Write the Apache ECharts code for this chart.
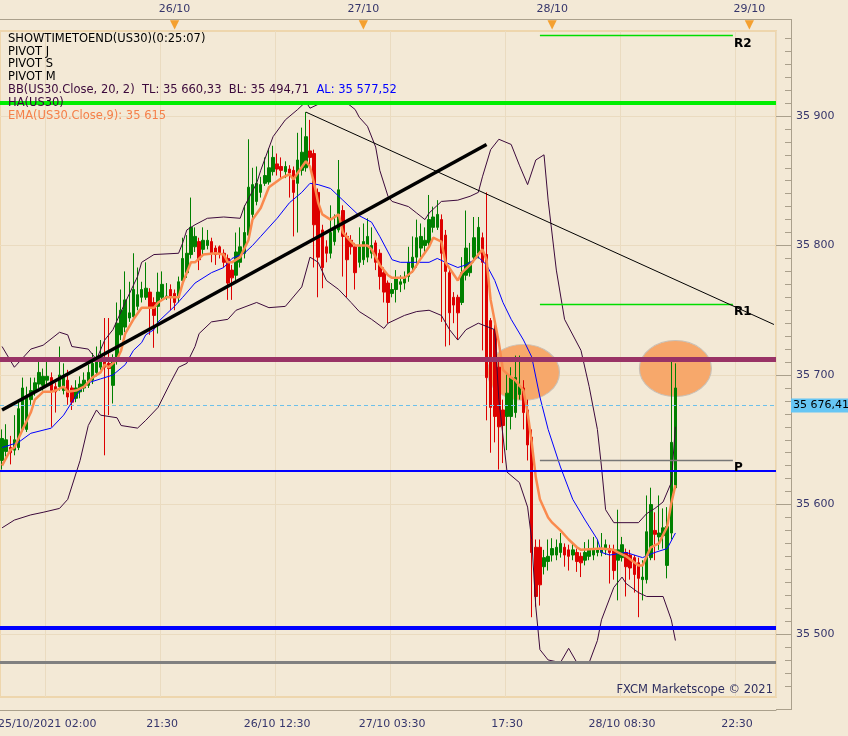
<!DOCTYPE html>
<html><head><meta charset="utf-8">
<script src="https://cdn.jsdelivr.net/npm/echarts@6/dist/echarts.min.js"></script>
<style>html,body{margin:0;padding:0;background:#f3e9d6;}#c{width:848px;height:736px;}</style>
</head><body><div id="c"></div>
<script>
// ---------- DATA ----------
const slotCount = 189; // 30-min slots shown on the time axis
const opens = [35634,35641,35644,35642,35644,35658,35658,35681,35687,35693,
35692,35696,35698,35691,35691,35688,35696,35690,35682,35687,
35690,35692,35696,35702,35706,35710,35709,35692,35712,35731,
35737,35744,35745,35753,35760,35760,35764,35756,35753,35760,
35760,35766,35763,35760,35773,35779,35793,35799,35803,35797,
35800,35803,35798,35799,35794,35790,35781,35777,35787,35794,
35808,35824,35834,35841,35848,35849,35857,35863,35861,35857,
35859,35858,35848,35858,35860,35873,35871,35841,35812,35799,
35794,35803,35812,35827,35807,35804,35799,35787,35789,35791,
35794,35802,35794,35779,35771,35763,35766,35770,35771,35776,
35783,35791,35798,35800,35802,35814,35814,35820,35808,35779,
35760,35760,35756,35777,35779,35791,35794,35806,35793,35742,
35735,35706,35673,35668,35668,35671,35685,35690,35673,35652,
35567,35567,35552,35556,35561,35561,35563,35567,35565,35561,
35563,35560,35557,35560,35561,35563,35563,35565,35566,35565,
35557,35559,35563,35561,35559,35555,35542,35542,35559,35580,
35575,35576,35553,35578,35613];
const closes = [35651,35650,35640,35650,35674,35690,35683,35688,35694,35702,
35699,35699,35688,35687,35700,35698,35683,35679,35690,35693,
35696,35702,35709,35712,35714,35706,35705,35712,35740,35750,
35758,35748,35766,35762,35766,35767,35752,35746,35764,35770,
35761,35760,35756,35772,35790,35794,35814,35807,35789,35804,
35804,35794,35793,35794,35787,35771,35775,35795,35799,35810,
35845,35847,35848,35847,35854,35860,35868,35859,35858,35861,
35856,35841,35866,35872,35884,35868,35816,35791,35783,35794,
35810,35814,35843,35807,35789,35799,35779,35799,35803,35807,
35800,35787,35776,35764,35756,35766,35775,35772,35775,35787,
35791,35806,35807,35804,35820,35822,35824,35794,35780,35748,
35754,35748,35779,35798,35787,35806,35814,35787,35698,35675,
35668,35660,35661,35686,35698,35698,35691,35671,35646,35563,
35529,35538,35559,35560,35566,35567,35570,35561,35560,35565,
35556,35555,35563,35565,35566,35566,35566,35569,35563,35549,
35565,35569,35552,35551,35546,35543,35544,35579,35600,35577,
35578,35582,35583,35648,35690];
const highs = [35658,35662,35653,35669,35681,35698,35691,35698,35698,35711,
35705,35711,35702,35694,35722,35709,35704,35692,35696,35699,
35702,35708,35717,35722,35727,35744,35744,35716,35756,35766,
35780,35772,35794,35783,35772,35787,35767,35760,35779,35780,
35771,35770,35766,35776,35806,35808,35837,35814,35806,35814,
35812,35806,35800,35800,35797,35793,35785,35810,35814,35831,
35882,35860,35861,35853,35868,35875,35877,35871,35868,35865,
35862,35861,35887,35891,35903,35897,35874,35844,35816,35804,
35831,35824,35866,35831,35810,35808,35802,35814,35817,35821,
35814,35804,35797,35783,35773,35771,35781,35777,35780,35799,
35807,35820,35817,35814,35839,35830,35835,35824,35812,35781,
35764,35762,35791,35827,35802,35822,35822,35810,35841,35744,
35739,35712,35681,35702,35706,35715,35715,35696,35681,35658,
35573,35573,35565,35573,35574,35573,35578,35570,35569,35570,
35566,35563,35571,35573,35575,35573,35578,35573,35569,35569,
35596,35575,35566,35565,35561,35559,35557,35607,35613,35594,
35607,35597,35598,35712,35709];
const lows = [35627,35637,35631,35638,35642,35656,35656,35677,35684,35690,
35688,35692,35660,35671,35688,35685,35677,35673,35679,35682,
35687,35690,35693,35699,35704,35638,35669,35678,35708,35727,
35733,35741,35743,35750,35756,35758,35731,35721,35732,35758,
35758,35750,35750,35756,35770,35775,35790,35795,35781,35793,
35797,35787,35785,35790,35783,35758,35758,35773,35783,35790,
35804,35820,35831,35837,35846,35847,35854,35854,35851,35852,
35837,35807,35810,35854,35857,35862,35783,35760,35767,35787,
35790,35800,35810,35776,35760,35793,35766,35783,35785,35787,
35790,35781,35766,35756,35740,35760,35756,35764,35766,35772,
35779,35783,35791,35795,35798,35810,35812,35741,35722,35723,
35740,35727,35754,35773,35776,35787,35790,35719,35665,35640,
35648,35627,35632,35642,35658,35667,35681,35658,35634,35513,
35521,35522,35546,35549,35556,35557,35559,35552,35549,35557,
35548,35544,35553,35557,35557,35560,35560,35561,35539,35542,
35526,35556,35529,35542,35532,35513,35526,35539,35557,35557,
35565,35566,35543,35573,35612];

// Bollinger bands and EMA as [slot, price]
const bbUpper = [[0,35722],[3,35706],[7,35720],[10,35723],[14,35733],[16,35731],[17,35722],[21,35720],[23,35712],[25,35727],[27,35735],[30,35756],[33,35776],[34,35787],[37,35793],[43,35794],[44,35802],[45,35812],[47,35816],[50,35821],[54,35822],[58,35821],[59,35830],[62,35848],[63,35858],[66,35884],[69,35897],[72,35905],[74,35911],[75,35906],[77,35909],[80,35909],[84,35910],[86,35905],[87,35899],[89,35892],[91,35876],[92,35858],[94,35838],[95,35834],[99,35830],[101,35825],[103,35820],[104,35825],[107,35834],[111,35835],[114,35838],[116,35841],[117,35853],[119,35874],[121,35882],[124,35878],[126,35862],[128,35847],[130,35866],[132,35870],[133,35835],[135,35781],[137,35743],[141,35719],[143,35691],[145,35658],[146,35629],[147,35596],[149,35586],[155,35586],[157,35593],[159,35597],[161,35602],[163,35617],[164,35660]];
const bbLower = [[0,35582],[3,35588],[7,35592],[10,35594],[14,35597],[16,35604],[19,35634],[21,35661],[23,35673],[24,35669],[28,35667],[29,35661],[33,35659],[35,35665],[38,35675],[41,35694],[43,35706],[45,35709],[47,35722],[48,35732],[51,35741],[55,35743],[57,35750],[62,35756],[65,35752],[69,35753],[73,35768],[75,35791],[77,35787],[79,35773],[82,35766],[85,35756],[87,35749],[90,35743],[93,35736],[94,35740],[98,35746],[101,35749],[104,35750],[107,35746],[109,35735],[111,35727],[113,35735],[116,35740],[120,35735],[121,35681],[123,35625],[126,35617],[128,35598],[129,35573],[130,35521],[131,35488],[133,35480],[136,35478],[138,35489],[140,35478],[143,35478],[145,35495],[146,35511],[149,35536],[151,35544],[152,35539],[155,35532],[157,35529],[161,35529],[163,35511],[164,35495]];
const bbMiddle = [[0,35644],[4,35648],[7,35655],[12,35659],[15,35669],[17,35679],[19,35688],[21,35694],[24,35697],[27,35700],[30,35708],[32,35719],[34,35725],[35,35731],[37,35735],[38,35741],[42,35753],[44,35760],[47,35771],[51,35779],[54,35783],[56,35790],[59,35794],[61,35800],[63,35807],[67,35821],[70,35833],[73,35841],[75,35848],[77,35847],[80,35844],[83,35835],[85,35829],[87,35823],[90,35818],[92,35807],[94,35795],[95,35789],[97,35787],[100,35787],[104,35787],[106,35790],[108,35787],[111,35783],[113,35785],[116,35791],[118,35785],[120,35773],[122,35756],[124,35743],[127,35727],[129,35714],[131,35683],[133,35658],[136,35629],[139,35604],[142,35588],[145,35573],[146,35563],[148,35561],[152,35563],[156,35559],[159,35563],[162,35566],[164,35578]];
const ema9 = [[0,35630],[2,35642],[3,35644],[5,35658],[7,35671],[8,35681],[10,35687],[12,35687],[13,35688],[15,35691],[16,35687],[18,35688],[20,35691],[22,35698],[24,35702],[25,35708],[26,35706],[28,35712],[29,35719],[30,35732],[32,35743],[34,35752],[37,35752],[38,35756],[40,35760],[41,35760],[43,35760],[44,35771],[46,35787],[47,35787],[49,35793],[52,35794],[54,35793],[55,35787],[56,35787],[58,35791],[60,35804],[61,35820],[63,35829],[65,35845],[68,35852],[70,35855],[71,35851],[72,35856],[74,35865],[75,35861],[76,35848],[77,35833],[78,35824],[80,35820],[82,35824],[83,35810],[85,35803],[86,35800],[89,35800],[90,35797],[92,35785],[94,35777],[95,35775],[98,35775],[100,35780],[102,35790],[104,35799],[105,35806],[107,35803],[108,35787],[111,35773],[112,35779],[114,35785],[117,35797],[118,35789],[119,35758],[121,35725],[122,35704],[124,35698],[125,35696],[127,35688],[128,35671],[129,35648],[130,35621],[131,35604],[133,35590],[134,35586],[136,35580],[138,35573],[140,35567],[141,35565],[146,35566],[149,35565],[150,35563],[152,35560],[155,35553],[156,35553],[158,35567],[160,35570],[162,35583],[163,35601],[164,35615]];

// drawn studies
const trendThin = [[74,35903],[188,35739]];
const trendThick = [[0,35673],[118,35878]];
const zones = [[127,35702],[164,35705]];
const levelGreen = 35910, levelMaroon = 35712.5, levelBlueP = 35626, levelBlueLow = 35505, levelGray = 35478;
const pivotStart = 131, pivotEnd = 178;
const pivotNames = ['R2','R1','P'];
const pivotValues = [35962, 35755, 35634.3];
const lastPrice = 35676.41;

// legend values
const bbTL = 35660.33, bbBL = 35494.71, bbAL = 35577.52, emaLast = 35615;

// axes
const yMin = 35451.4, yMax = 35965.6;
const yLabelValues = [35500,35600,35700,35800,35900];
const bottomMajorIdx = [11,39,67,95,123,151,179];
const bottomLabels = ['25/10/2021 02:00','21:30','26/10 12:30','27/10 03:30','17:30','28/10 08:30','22:30'];
const topDayIdx = [42,88,134,182];
const topDayLabels = ['26/10','27/10','28/10','29/10'];
const topTickIdx = [0,4,8,12,16,19,23,27,31,35,39,43,49,54,60,66,71,77,82,88,94,100,105,111,117,123,128,134,140,146,152,158,164,170,176,182,188];

// ---------- BUILD ----------
const cats = Array.from({length: slotCount}, (_, i) => String(i));
const candles = opens.map((o, i) => [o, closes[i], lows[i], highs[i]]);
const fmtNum = (v, dec) => {
  const s = v.toFixed(dec);
  const parts = s.split('.');
  const ip = parts[0].replace(/\B(?=(\d{3})+(?!\d))/g, ' ');
  return parts.length > 1 ? ip + ',' + parts[1] : ip;
};
const yMinor = [];
for (let v = Math.ceil(yMin / 10) * 10; v <= yMax; v += 10) yMinor.push(v);
const bottomMinorIdx = [];
for (let k = 1; k <= 3; k++) bottomMinorIdx.push(bottomMajorIdx[0] - Math.round(k * 28 / 9));
bottomMajorIdx.forEach(m => { for (let k = 1; k <= 8; k++) { const t = m + Math.round(k * 28 / 9); if (t < slotCount) bottomMinorIdx.push(t); } });

const FONT = '"DejaVu Sans", Verdana, sans-serif';
const LFONT = '11.5px ' + FONT;
const TXT = '#35356b';
const TICK = '#aaa08c';
const GRIDLINE = '#eadbc0';

const chart = echarts.init(document.getElementById('c'), null, {renderer: 'canvas'});
const option = {
  animation: false,
  backgroundColor: '#f3e9d6',
  grid: {left: 0, right: 72, top: 31, bottom: 39, outerBoundsMode: 'none', containLabel: false, show: true, backgroundColor: 'transparent', borderColor: '#eed6ad', borderWidth: 2},
  xAxis: [
    {type: 'category', data: cats, boundaryGap: true, position: 'bottom', offset: 13,
     axisLine: {lineStyle: {color: TICK}},
     axisTick: {inside: true, length: 9, interval: (i) => bottomMajorIdx.includes(i), lineStyle: {color: TICK}},
     axisLabel: {interval: (i) => bottomMajorIdx.includes(i), formatter: (v, i) => bottomLabels[bottomMajorIdx.indexOf(i)] || '', color: TXT, fontFamily: FONT, fontSize: 11, margin: 9},
     splitLine: {show: true, interval: (i) => bottomMajorIdx.includes(i), lineStyle: {color: GRIDLINE, width: 1}}},
    {type: 'category', data: cats, boundaryGap: true, position: 'bottom', offset: 13,
     axisLine: {show: false}, axisLabel: {show: false},
     axisTick: {inside: true, length: 4, interval: (i) => bottomMinorIdx.includes(i), lineStyle: {color: TICK}}},
    {type: 'category', data: cats, boundaryGap: true, position: 'top', offset: 12,
     axisLine: {lineStyle: {color: TICK}},
     axisTick: {inside: true, length: 5, interval: (i) => topTickIdx.includes(i), lineStyle: {color: TICK}},
     axisLabel: {interval: (i) => topDayIdx.includes(i), formatter: (v, i) => topDayLabels[topDayIdx.indexOf(i)] || '', color: TXT, fontFamily: FONT, fontSize: 11, margin: 4}},
    {type: 'category', data: cats, boundaryGap: true, position: 'top', offset: 12,
     axisLine: {show: false}, axisTick: {show: false},
     axisLabel: {inside: true, margin: 0, interval: (i) => topDayIdx.includes(i), formatter: () => '▼', color: '#f4a030', fontSize: 12, fontFamily: FONT}}
  ],
  yAxis: [
    {type: 'value', min: yMin, max: yMax, position: 'right', offset: 15,
     axisLine: {show: true, lineStyle: {color: TICK}},
     axisTick: {show: true, inside: true, length: 15, customValues: yLabelValues, lineStyle: {color: TICK}},
     axisLabel: {customValues: yLabelValues, formatter: (v) => fmtNum(v, 0), color: TXT, fontFamily: FONT, fontSize: 11, margin: 5},
     splitLine: {show: true, lineStyle: {color: GRIDLINE}}},
    {type: 'value', min: yMin, max: yMax, position: 'right', offset: 15,
     axisLine: {show: false}, axisLabel: {show: false}, splitLine: {show: false},
     axisTick: {show: true, inside: true, length: 6, customValues: yMinor, lineStyle: {color: TICK}}}
  ],
  series: [
    {name: 'zones', type: 'scatter', data: zones, symbol: 'circle', symbolSize: [72, 56], z: 1, silent: true,
     itemStyle: {color: '#f7a86b', borderColor: '#c9c0b6', borderWidth: 1, opacity: 1}},
    {name: 'HA(US30)', type: 'candlestick', data: candles, barWidth: 3, z: 2,
     itemStyle: {color: '#008000', color0: '#dd0000', borderColor: '#008000', borderColor0: '#dd0000', borderWidth: 1}},
    {name: 'BB upper', type: 'line', data: bbUpper, symbol: 'none', z: 3, lineStyle: {color: '#3c0a3c', width: 1}},
    {name: 'BB lower', type: 'line', data: bbLower, symbol: 'none', z: 3, lineStyle: {color: '#3c0a3c', width: 1}},
    {name: 'BB middle', type: 'line', data: bbMiddle, symbol: 'none', z: 3, lineStyle: {color: '#0000ff', width: 1}},
    {name: 'EMA', type: 'line', data: ema9, symbol: 'none', z: 4, lineStyle: {color: '#fa8a4e', width: 2.5}},
    {name: 'trend thick', type: 'line', data: trendThick, symbol: 'none', z: 5, lineStyle: {color: '#000', width: 3.5}},
    {name: 'trend thin', type: 'line', data: trendThin, symbol: 'none', z: 6, lineStyle: {color: '#000', width: 1},
     markLine: {silent: true, symbol: ['none', 'none'], animation: false,
       data: [
         {yAxis: levelGreen, lineStyle: {color: '#00ee00', width: 4, type: 'solid'}, label: {show: false}},
         {yAxis: levelMaroon, lineStyle: {color: '#993366', width: 5, type: 'solid'}, label: {show: false}},
         {yAxis: levelBlueP, lineStyle: {color: '#0000ff', width: 2, type: 'solid'}, label: {show: false}},
         {yAxis: levelBlueLow, lineStyle: {color: '#0000ff', width: 4, type: 'solid'}, label: {show: false}},
         {yAxis: levelGray, lineStyle: {color: '#808080', width: 3, type: 'solid'}, label: {show: false}},
         {yAxis: lastPrice, lineStyle: {color: '#6cc0ea', width: 1, type: [4, 3]},
          label: {show: true, position: 'end', distance: 15, formatter: () => fmtNum(lastPrice, 2), color: '#000', backgroundColor: '#66c6f4', padding: [2, 3, 1, 2], fontFamily: FONT, fontSize: 11, align: 'left'}},
         ...pivotNames.map((n, k) => [
           {coord: [pivotStart, pivotValues[k]], name: n,
            lineStyle: {color: n === 'P' ? '#777777' : '#00dd00', width: 1.3, type: 'solid'},
            label: {show: true, position: 'end', distance: 1, formatter: n, color: '#000', fontFamily: FONT, fontSize: 12, fontWeight: 'bold', align: 'left', verticalAlign: 'top', padding: [2, 0, 0, 0]}},
           {coord: [pivotEnd, pivotValues[k]]}
         ])
       ]}}
  ],
  graphic: [
    {type: 'text', left: 8, top: 33, z: 100, style: {text: 'SHOWTIMETOEND(US30)(0:25:07)', font: LFONT, fill: '#000'}},
    {type: 'text', left: 8, top: 46, z: 100, style: {text: 'PIVOT J', font: LFONT, fill: '#000'}},
    {type: 'text', left: 8, top: 58, z: 100, style: {text: 'PIVOT S', font: LFONT, fill: '#000'}},
    {type: 'text', left: 8, top: 71, z: 100, style: {text: 'PIVOT M', font: LFONT, fill: '#000'}},
    {type: 'text', left: 8, top: 84, z: 100, style: {
      text: '{a|BB(US30.Close, 20, 2)  TL: ' + fmtNum(bbTL, 2) + '  BL: ' + fmtNum(bbBL, 2) + '  }{b|AL: ' + fmtNum(bbAL, 2) + '}',
      rich: {a: {fill: '#3c0a3c', font: LFONT}, b: {fill: '#0000ff', font: LFONT}}}},
    {type: 'text', left: 8, top: 97, z: 100, style: {text: 'HA(US30)', font: LFONT, fill: '#3c0a3c'}},
    {type: 'text', left: 8, top: 110, z: 100, style: {text: 'EMA(US30.Close,9): ' + fmtNum(emaLast, 0), font: LFONT, fill: '#f5804a'}},
    {type: 'text', right: 75, top: 684, z: 100, style: {text: 'FXCM Marketscope © 2021', font: LFONT, fill: '#2f2f60'}},
    {type: 'line', z: 50, shape: {x1: 776, y1: 19.5, x2: 791.5, y2: 19.5}, style: {stroke: TICK, lineWidth: 1}},
    {type: 'line', z: 50, shape: {x1: 776, y1: 709.5, x2: 791.5, y2: 709.5}, style: {stroke: TICK, lineWidth: 1}},
    {type: 'line', z: 50, shape: {x1: 791.5, y1: 19, x2: 791.5, y2: 31}, style: {stroke: TICK, lineWidth: 1}},
    {type: 'line', z: 50, shape: {x1: 791.5, y1: 697, x2: 791.5, y2: 710}, style: {stroke: TICK, lineWidth: 1}}
  ]
};
chart.setOption(option);
</script></body></html>
